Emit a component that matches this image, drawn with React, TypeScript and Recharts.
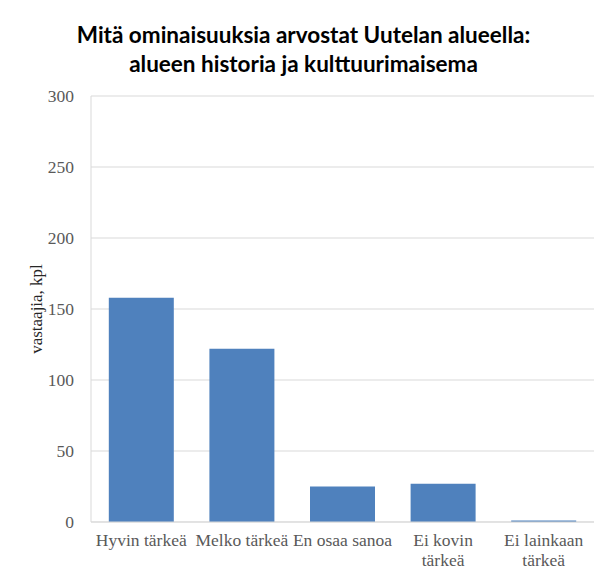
import { BarChart, Bar, XAxis, YAxis, CartesianGrid } from 'recharts'

const categories = ['Hyvin tärkeä', 'Melko tärkeä', 'En osaa sanoa', 'Ei kovin\ntärkeä', 'Ei lainkaan\ntärkeä']
const vastaajia = [158, 122, 25, 27, 1]
const yTicks = [0, 50, 100, 150, 200, 250, 300]

const data = categories.map((name, i) => ({ name, value: vastaajia[i] }))

const serif = '"Liberation Serif", "Times New Roman", serif'

function CategoryTick(props: any) {
  const { x, y, payload } = props
  const lines = String(payload.value).split('\n')
  return (
    <text x={x} y={y} textAnchor="middle" fill="#595959" style={{ fontFamily: serif, fontSize: 17.5 }}>
      {lines.map((line, i) => (
        <tspan key={i} x={x} dy={i === 0 ? 12 : 20}>{line}</tspan>
      ))}
    </text>
  )
}

function ValueTick(props: any) {
  const { x, y, payload } = props
  return (
    <text x={x} y={y} dy={6} textAnchor="end" fill="#595959" style={{ fontFamily: serif, fontSize: 17.5 }}>
      {payload.value}
    </text>
  )
}

function AxisTitle(props: any) {
  const { viewBox } = props
  const cx = 36
  const cy = viewBox.y + viewBox.height / 2
  return (
    <text x={cx} y={cy} transform={`rotate(-90 ${cx} ${cy})`} textAnchor="middle" dominantBaseline="central" fill="#262626" style={{ fontFamily: serif, fontSize: 17 }}>
      vastaajia, kpl
    </text>
  )
}

export default function App() {
  return (
    <div style={{ position: 'relative', marginTop: -8, marginLeft: -8, width: 607, height: 578, overflow: 'hidden', background: '#fff' }}>
      <div style={{ position: 'absolute', left: 7, top: 7, width: 620, height: 600, border: '1px solid #d9d9d9' }} />
      <div style={{ position: 'absolute', left: 0, top: 20, width: 607, textAlign: 'center', fontFamily: 'Lato, "Open Sans", sans-serif', fontWeight: 'bold', fontSize: 22.5, lineHeight: '29px', color: '#000' }}>
        Mitä ominaisuuksia arvostat Uutelan alueella:<br />alueen historia ja kulttuurimaisema
      </div>
      <div style={{ position: 'absolute', left: 0, top: 0 }}>
        <BarChart width={607} height={578} data={data} margin={{ top: 96, right: 13, bottom: 26, left: 0 }} barCategoryGap="17.7%">
          <CartesianGrid vertical={false} stroke="#d9d9d9" />
          <XAxis dataKey="name" height={30} interval={0} axisLine={{ stroke: '#d9d9d9' }} tickLine={false} tick={<CategoryTick />} tickSize={0} tickMargin={12} />
          <YAxis
            width={91}
            domain={[0, 300]}
            ticks={yTicks}
            axisLine={{ stroke: '#d9d9d9' }}
            tickLine={false}
            tickSize={0}
            tickMargin={17}
            tick={<ValueTick />}
            label={<AxisTitle />}
          />
          <Bar dataKey="value" fill="#4F81BD" isAnimationActive={false} />
        </BarChart>
      </div>
    </div>
  )
}
